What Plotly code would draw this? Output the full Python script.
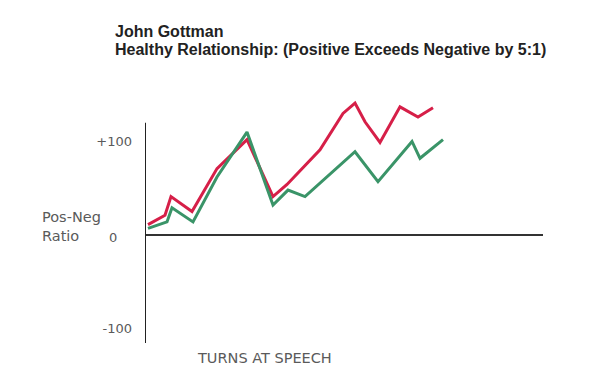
import plotly.graph_objects as go

# Data (turns in arbitrary units, ratio values)
red_turns = [3, 20, 26, 47, 72, 85, 102, 128, 142, 175, 198, 210, 220, 235, 255, 273, 288]
red_ratio = [11, 21, 41, 25, 71, 84, 102, 41, 54, 91, 130, 141, 121, 99, 137, 126, 136]
green_turns = [3, 22, 27, 48, 72, 102, 128, 143, 160, 210, 233, 267, 275, 298]
green_ratio = [7, 14, 29, 14, 62, 110, 32, 48, 41, 89, 57, 100, 82, 102]

ytick_vals = [100, -100]
ytick_text = ["+100", "-100"]

title_line1 = "John Gottman"
title_line2 = "Healthy Relationship: (Positive Exceeds Negative by 5:1)"
x_title = "TURNS AT SPEECH"
y_title = "Pos-Neg<br>Ratio"

# plot-area geometry in pixels
L, R, T, B = 145, 543, 90, 343
W, H = 600, 390
Y_TOP, Y_BOT = 155, -115.5
AXIS_TOP = 120


def px(x):
    return (x - L) / (R - L)


def py(y):
    return (B - y) / (B - T)


fig = go.Figure()
fig.add_trace(go.Scatter(x=red_turns, y=red_ratio, mode="lines",
                         line=dict(color="#d61f48", width=3), showlegend=False))
fig.add_trace(go.Scatter(x=green_turns, y=green_ratio, mode="lines",
                         line=dict(color="#3a9468", width=3), showlegend=False))

fig.update_layout(
    width=W, height=H,
    margin=dict(l=L, r=W - R, t=T, b=H - B),
    paper_bgcolor="white", plot_bgcolor="white",
    xaxis=dict(range=[0, 398], showgrid=False, showticklabels=False,
               showline=False, zeroline=False, ticks=""),
    yaxis=dict(range=[Y_BOT, Y_TOP], showgrid=False, zeroline=True,
               zerolinecolor="#333333", zerolinewidth=2,
               showline=False,
               tickvals=ytick_vals, ticktext=ytick_text, ticks="",
               ticklabelstandoff=12,
               tickfont=dict(family="DejaVu Sans", size=13, color="#5a5a5a")),
    font=dict(family="DejaVu Sans"),
    shapes=[dict(type="line", xref="x", yref="y", x0=0, x1=0, y0=Y_BOT, y1=AXIS_TOP,
                 line=dict(color="#222222", width=2))],
)

annots = [
    dict(text="<b>" + title_line1 + "</b>", x=px(113), y=py(31), xanchor="left", yanchor="middle",
         font=dict(family="Liberation Sans", size=16, color="#222222")),
    dict(text="<b>" + title_line2 + "</b>", x=px(113), y=py(49), xanchor="left", yanchor="middle",
         font=dict(family="Liberation Sans", size=16, color="#222222")),
    dict(text="0", x=px(113), y=py(237), xanchor="center", yanchor="middle",
         font=dict(family="DejaVu Sans", size=13, color="#5a5a5a")),
    dict(text=y_title, x=px(40), y=py(226), xanchor="left", yanchor="middle", align="left",
         font=dict(family="DejaVu Sans", size=14.5, color="#5a5a5a")),
    dict(text=x_title, x=px(195), y=py(358), xanchor="left", yanchor="middle",
         font=dict(family="DejaVu Sans", size=14.5, color="#5a5a5a")),
]
for a in annots:
    a.update(xref="paper", yref="paper", showarrow=False)
fig.update_layout(annotations=annots)

fig.write_html("out.html", config={"displayModeBar": False},
               post_script="document.body.style.margin='0px';")
